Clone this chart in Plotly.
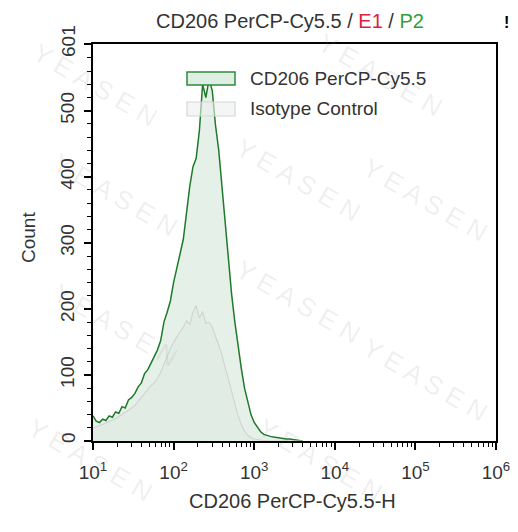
import plotly.graph_objects as go
import numpy as np

# bin centres, log10 units (FlowJo-like log bins)
log_bins = np.round(np.arange(1.0, 3.6001, 0.04), 2)
bin_x = [10 ** v for v in log_bins]

cd206_counts = [38, 30, 28, 33, 31, 38, 36, 44, 42, 52,
                50, 62, 66, 72, 82, 88, 102, 108, 118, 128,
                138, 152, 180, 195, 212, 240, 262, 285, 305, 345,
                385, 415, 428, 470, 540, 520, 548, 530, 478, 440,
                385, 330, 270, 222, 180, 142, 110, 80, 58, 40,
                28, 20, 14, 10, 8, 7, 6, 5, 4, 4,
                3, 3, 2, 2, 1, 0]

isotype_counts = [20, 21, 23, 25, 27, 29, 32, 34, 37, 40,
                  43, 47, 50, 54, 60, 66, 72, 78, 84, 88,
                  95, 104, 115, 128, 140, 150, 158, 165, 172, 182,
                  176, 195, 205, 186, 196, 178, 180, 172, 160, 145,
                  130, 112, 95, 75, 55, 38, 25, 15, 9, 5,
                  3, 2, 1, 0, 0, 0, 0, 0, 0, 0,
                  0, 0, 0, 0, 0, 0]

x_tick_vals = [10, 100, 1000, 10000, 100000, 1000000]
x_tick_text = ["10<sup>1</sup>", "10<sup>2</sup>", "10<sup>3</sup>",
               "10<sup>4</sup>", "10<sup>5</sup>", "10<sup>6</sup>"]
y_tick_vals = [0, 100, 200, 300, 400, 500, 601]
y_tick_text = ["0", "100", "200", "300", "400", "500", "601"]

legend_names = ["CD206 PerCP-Cy5.5", "Isotype Control"]
x_title = "CD206 PerCP-Cy5.5-H"
y_title = "Count"

FONT = "Liberation Sans, Arial, sans-serif"
TXT = "#333333"
OFF = 8                      # default page (body) margin of the browser
W, H = 518 - OFF, 532 - OFF
L, R, T, B = 93 - OFF, 22, 44 - OFF, 91
PW, PH = W - L - R, H - T - B


def px(x):   # screen pixel -> paper x
    return (x - OFF - L) / PW


def py(y):   # screen pixel -> paper y
    return (H - B - (y - OFF)) / PH


fig = go.Figure()
fig.add_trace(go.Scatter(
    x=bin_x, y=cd206_counts, mode="lines", line_shape="linear",
    line=dict(color="#1f7a2a", width=1.5),
    fill="tozeroy", fillcolor="rgb(229,240,232)",
    name=legend_names[0], showlegend=False))
fig.add_trace(go.Scatter(
    x=bin_x, y=isotype_counts, mode="lines", line_shape="linear",
    line=dict(color="#d2d2d2", width=1.1),
    fill="tozeroy", fillcolor="rgba(215,225,218,0.25)",
    name=legend_names[1], showlegend=False))

minor_x = [m * 10 ** e for e in range(1, 6) for m in range(2, 10)]

fig.update_xaxes(
    type="log", range=[1, 6], automargin=False,
    tickvals=x_tick_vals, ticktext=x_tick_text,
    ticks="outside", ticklen=7, tickwidth=1.5, tickcolor="black",
    ticklabelstandoff=6,
    minor=dict(tickvals=minor_x, ticks="outside", ticklen=4,
               tickwidth=1, tickcolor="black"),
    showline=True, linecolor="black", linewidth=2, mirror=True,
    showgrid=False, zeroline=False,
    tickfont=dict(family=FONT, size=19, color=TXT),
)
fig.update_yaxes(
    range=[0, 601], automargin=False,
    tickvals=y_tick_vals, showticklabels=False,
    ticks="outside", ticklen=7, tickwidth=1.5, tickcolor="black",
    minor=dict(dtick=20, tick0=0, ticks="outside", ticklen=4,
               tickwidth=1, tickcolor="black"),
    showline=True, linecolor="black", linewidth=2, mirror=True,
    showgrid=False, zeroline=False,
)

# manual legend
shapes = [
    dict(type="rect", xref="paper", yref="paper",
         x0=px(187), x1=px(235), y0=py(85), y1=py(72),
         line=dict(color="#2e8b3a", width=1.5),
         fillcolor="rgb(222,238,226)"),
    dict(type="rect", xref="paper", yref="paper",
         x0=px(187), x1=px(235), y0=py(116), y1=py(102),
         line=dict(color="#d6d6d6", width=1.2),
         fillcolor="rgba(235,240,236,0.6)"),
]
annotations = [
    dict(xref="paper", yref="paper", x=px(248), y=py(78),
         xanchor="left", yanchor="middle", showarrow=False,
         text=legend_names[0], font=dict(family=FONT, size=19, color=TXT)),
    dict(xref="paper", yref="paper", x=px(248), y=py(108),
         xanchor="left", yanchor="middle", showarrow=False,
         text=legend_names[1], font=dict(family=FONT, size=19, color=TXT)),
    dict(xref="paper", yref="paper", x=px(506), y=py(22),
         xanchor="center", yanchor="middle", showarrow=False,
         text="<b>!</b>", font=dict(family=FONT, size=16, color="black")),
    dict(xref="paper", yref="paper", x=px(292), y=py(501),
         xanchor="center", yanchor="middle", showarrow=False,
         text=x_title, font=dict(family=FONT, size=20, color=TXT)),
    dict(xref="paper", yref="paper", x=px(28), y=py(238),
         xanchor="center", yanchor="middle", showarrow=False,
         text=y_title, textangle=-90,
         font=dict(family=FONT, size=19, color=TXT)),
]

# y tick labels (rotated), placed on the y scale
for v, t in zip(y_tick_vals, y_tick_text):
    annotations.append(dict(
        xref="paper", yref="y", x=px(68), y=v, yshift=3,
        xanchor="center", yanchor="middle", showarrow=False,
        text=t, textangle=-90,
        font=dict(family=FONT, size=19, color=TXT)))

# faint watermark
wm_centres = [(95, 85), (380, 75), (115, 195), (298, 180), (425, 200),
              (115, 325), (298, 302), (425, 380), (90, 460), (320, 460)]
for cx, cy in wm_centres:
    annotations.append(dict(
        xref="paper", yref="paper", x=px(cx), y=py(cy),
        xanchor="center", yanchor="middle", showarrow=False,
        text="Y E A S E N", textangle=30,
        font=dict(family=FONT, size=26, color="rgba(130,130,130,0.13)")))

fig.update_layout(
    width=W, height=H,
    margin=dict(l=L, r=R, t=T, b=B),
    paper_bgcolor="white", plot_bgcolor="white",
    title=dict(
        text="CD206 PerCP-Cy5.5 / <span style='color:#e0203c'>E1</span>"
             " / <span style='color:#2e9e3e'>P2</span>",
        x=px(290), xanchor="center", xref="paper",
        y=1 - (21 - OFF) / H, yanchor="middle",
        font=dict(family=FONT, size=20, color=TXT)),
    shapes=shapes, annotations=annotations,
    showlegend=False,
)

fig.write_html("out.html")
